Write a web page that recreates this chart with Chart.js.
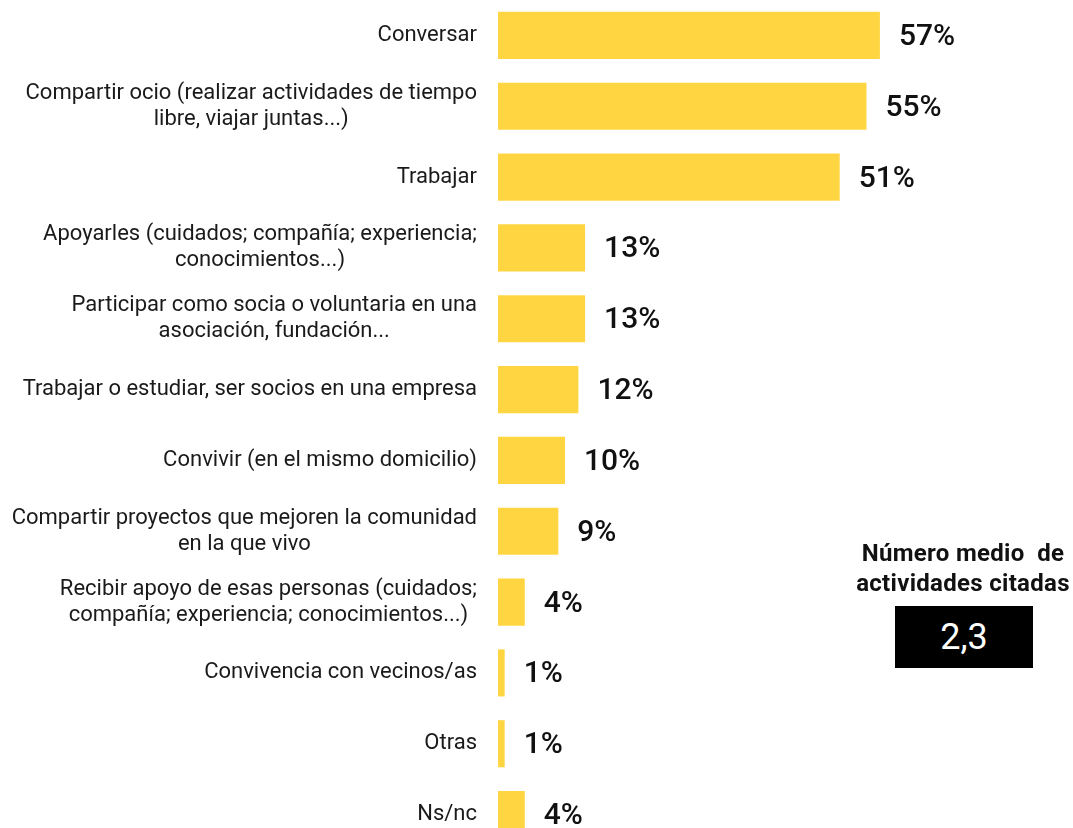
<!DOCTYPE html>
<html lang="es">
<head>
<meta charset="utf-8">
<script src="https://cdn.jsdelivr.net/npm/chart.js@4.4.1/dist/chart.umd.min.js"></script>
<style>
    html, body { margin: 0; padding: 0; background: #fff; overflow: hidden; }
    #wrap { position: relative; width: 1073px; height: 828px; overflow: hidden; }
    #myChart { position: absolute; left: 0; top: 0; }
    #sideTitle {
        position: absolute; left: 830px; top: 538px; width: 266px;
        font: 700 24px Roboto, sans-serif; color: #111; text-align: center; line-height: 30px;
        letter-spacing: 0.3px;
    }
    #sideValue {
        position: absolute; left: 895px; top: 606px; width: 138px; height: 62px;
        background: #000; color: #fff; font: 400 36px Roboto, sans-serif;
        text-align: center; line-height: 62px;
    }
</style>
</head>
<body>
<div id="wrap">
    <canvas id="myChart" width="1073" height="850"></canvas>
    <div id="sideTitle">Número medio&nbsp; de<br>actividades citadas</div>
    <div id="sideValue">2,3</div>
</div>
<script>
const categories = [
    ["Conversar"],
    ["Compartir ocio (realizar actividades de tiempo", "libre, viajar juntas...)"],
    ["Trabajar"],
    ["Apoyarles (cuidados; compañía; experiencia;", "conocimientos...)"],
    ["Participar como socia o voluntaria en una", "asociación, fundación..."],
    ["Trabajar o estudiar, ser socios en una empresa"],
    ["Convivir (en el mismo domicilio)"],
    ["Compartir proyectos que mejoren la comunidad", "en la que vivo"],
    ["Recibir apoyo de esas personas (cuidados;", "compañía; experiencia; conocimientos...)"],
    ["Convivencia con vecinos/as"],
    ["Otras"],
    ["Ns/nc"]
];
const values = [57, 55, 51, 13, 13, 12, 10, 9, 4, 1, 1, 4];

const barColor = "#FFD642";

// category labels: block right-aligned, lines centred on each other
const categoryLabels = {
    id: "categoryLabels",
    afterDraw(chart) {
        const ctx = chart.ctx;
        const yScale = chart.scales.y;
        const rightEdge = 477;
        const lineHeight = 26;
        ctx.save();
        ctx.font = "400 22px Roboto, sans-serif";
        ctx.fillStyle = "#1a1a1a";
        ctx.textAlign = "center";
        ctx.textBaseline = "middle";
        categories.forEach((lines, i) => {
            const y = yScale.getPixelForTick(i);
            const widest = Math.max(...lines.map(l => ctx.measureText(l).width));
            const cx = rightEdge - widest / 2;
            const top = y - (lines.length - 1) * lineHeight / 2;
            lines.forEach((line, j) => {
                ctx.fillText(line, cx, top + j * lineHeight);
            });
        });
        ctx.restore();
    }
};

// value labels to the right of the bars
const valueLabels = {
    id: "valueLabels",
    afterDatasetsDraw(chart) {
        const ctx = chart.ctx;
        const meta = chart.getDatasetMeta(0);
        ctx.save();
        ctx.font = "500 30px Roboto, sans-serif";
        ctx.fillStyle = "#111";
        ctx.textAlign = "left";
        ctx.textBaseline = "middle";
        meta.data.forEach((bar, i) => {
            ctx.fillText(values[i] + "%", bar.x + 19, bar.y + 2);
        });
        ctx.restore();
    }
};

new Chart("myChart", {
    type: "bar",
    data: {
        labels: categories,
        datasets: [{
            data: values,
            backgroundColor: barColor,
            borderWidth: 0,
            barPercentage: 0.665,
            categoryPercentage: 1
        }]
    },
    options: {
        indexAxis: "y",
        responsive: false,
        animation: false,
        layout: {
            padding: { left: 498, right: 39, top: 0, bottom: 0 }
        },
        scales: {
            x: { display: false, min: 0, max: 80, grid: { display: false } },
            y: { display: false, grid: { display: false } }
        },
        plugins: {
            legend: { display: false },
            title: { display: false },
            tooltip: { enabled: false }
        }
    },
    plugins: [categoryLabels, valueLabels]
});
</script>
</body>
</html>
